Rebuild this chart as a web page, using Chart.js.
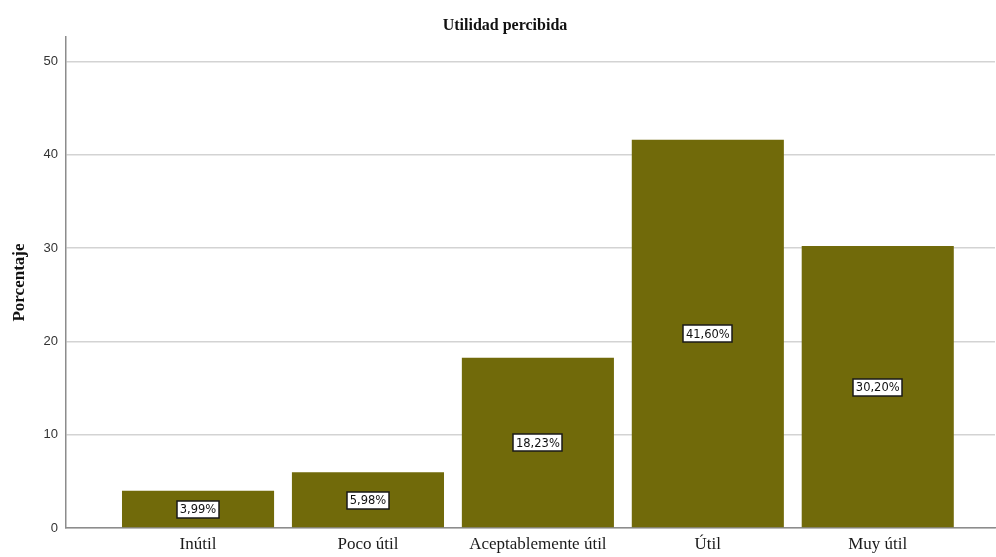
<!DOCTYPE html>
<html>
<head>
<meta charset="utf-8">
<script src="https://cdn.jsdelivr.net/npm/chart.js@4/dist/chart.umd.min.js"></script>
<style>
  html, body { margin: 0; padding: 0; background: #ffffff; }
  #wrap { width: 996px; height: 557px; position: relative; }
</style>
</head>
<body>
<div id="wrap"><canvas id="c" width="996" height="557"></canvas></div>
<script>
// Perceived-usefulness survey: share of answers per category (percent)
const categories = ['Inútil', 'Poco útil', 'Aceptablemente útil', 'Útil', 'Muy útil'];
const percentages = [3.99, 5.98, 18.23, 41.60, 30.20];
const yTicks = [0, 10, 20, 30, 40, 50];
const chartTitle = 'Utilidad percibida';
const yAxisTitle = 'Porcentaje';

const barColor = '#716a0a';

// Title centred above the plot area
const titlePlugin = {
  id: 'topTitle',
  afterDraw(chart) {
    const ctx = chart.ctx;
    ctx.save();
    ctx.font = 'bold 16px "Liberation Serif", serif';
    ctx.fillStyle = '#111111';
    ctx.textAlign = 'center';
    ctx.textBaseline = 'middle';
    ctx.fillText(chartTitle, 505, 26);
    ctx.restore();
  }
};

// Boxed percentage labels at the middle of each bar
const valueBoxes = {
  id: 'valueBoxes',
  afterDatasetsDraw(chart) {
    const ctx = chart.ctx;
    const meta = chart.getDatasetMeta(0);
    const yScale = chart.scales.y;
    ctx.save();
    ctx.font = '11.5px "DejaVu Sans", sans-serif';
    ctx.textAlign = 'center';
    ctx.textBaseline = 'middle';
    meta.data.forEach((bar, i) => {
      const v = percentages[i];
      const text = v.toFixed(2).replace('.', ',') + '%';
      const cx = bar.x;
      const cy = yScale.getPixelForValue(v / 2);
      const w = ctx.measureText(text).width + 5;
      const h = 17;
      ctx.fillStyle = '#ffffff';
      ctx.fillRect(Math.round(cx - w / 2), Math.round(cy - h / 2), Math.round(w), h);
      ctx.strokeStyle = '#1a1a1a';
      ctx.lineWidth = 1.5;
      ctx.strokeRect(Math.round(cx - w / 2), Math.round(cy - h / 2), Math.round(w), h);
      ctx.fillStyle = '#111111';
      ctx.fillText(text, cx, cy + 1);
    });
    ctx.restore();
  }
};

new Chart(document.getElementById('c'), {
  type: 'bar',
  data: {
    datasets: [{
      data: percentages.map((v, i) => ({ x: i, y: v })),
      backgroundColor: barColor,
      borderWidth: 0,
      categoryPercentage: 1,
      barPercentage: 0.895
    }]
  },
  options: {
    responsive: false,
    animation: false,
    layout: { padding: { top: 37, right: 1, left: 0, bottom: 0 } },
    plugins: {
      legend: { display: false },
      tooltip: { enabled: false },
      title: { display: false }
    },
    scales: {
      x: {
        type: 'linear',
        offset: false,
        min: -0.777,
        max: 4.69,
        grid: { display: false, drawTicks: false, offset: false },
        border: { display: true, color: '#8c8c8c', width: 1.5 },
        afterBuildTicks(scale) {
          scale.ticks = categories.map((_, i) => ({ value: i }));
        },
        ticks: {
          autoSkip: false,
          maxRotation: 0,
          padding: 6,
          color: '#1a1a1a',
          font: { family: '"Liberation Serif", serif', size: 17 },
          callback: (v) => categories[v] ?? ''
        },
        afterFit(scale) { scale.height = 29; }
      },
      y: {
        min: 0,
        max: 52.6,
        afterBuildTicks(scale) {
          scale.ticks = yTicks.map(v => ({ value: v }));
        },
        grid: { color: '#d3d3d3', lineWidth: 1.5, drawTicks: false },
        border: { display: true, color: '#8c8c8c', width: 1.5 },
        ticks: {
          padding: 8,
          color: '#333333',
          font: { family: '"Liberation Sans", sans-serif', size: 13 }
        },
        title: {
          display: true,
          text: yAxisTitle,
          color: '#111111',
          font: { family: '"Liberation Serif", serif', size: 17, weight: 'bold' },
          padding: { top: 9, bottom: 0 }
        },
        afterFit(scale) { scale.width = 66; }
      }
    }
  },
  plugins: [titlePlugin, valueBoxes]
});
</script>
</body>
</html>
